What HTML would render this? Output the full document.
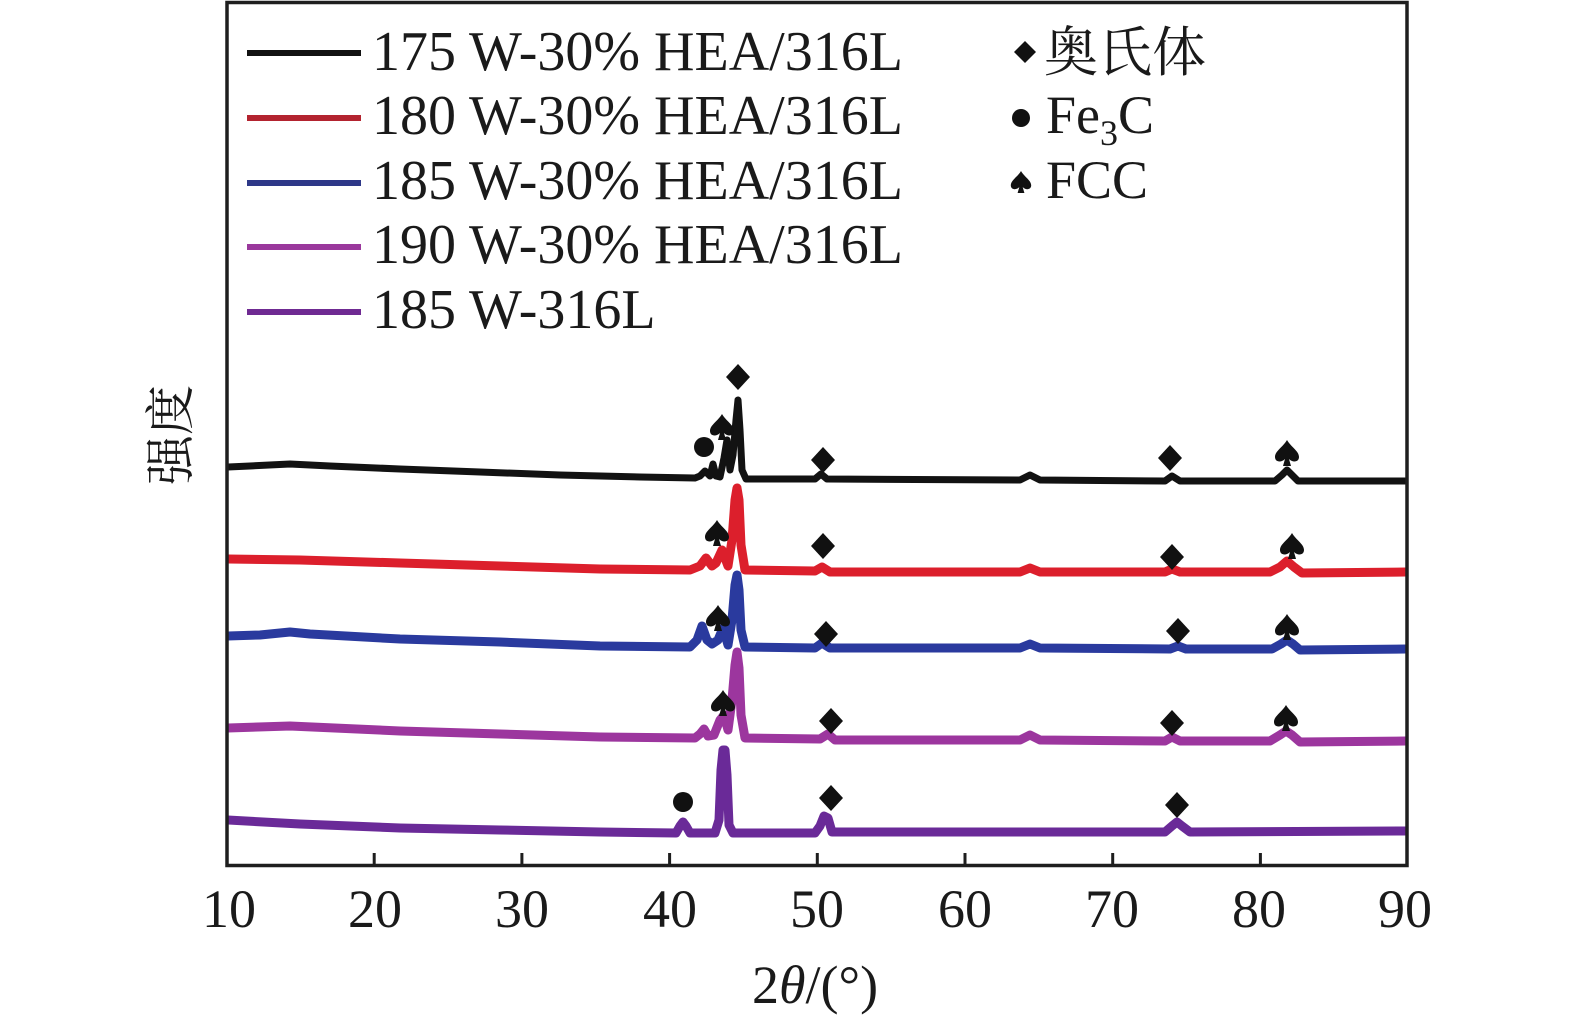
<!DOCTYPE html>
<html>
<head>
<meta charset="utf-8">
<style>
  html,body{margin:0;padding:0;background:#fff;}
  body{width:1575px;height:1023px;overflow:hidden;}
  svg{display:block;}
  .serif{font-family:"Liberation Serif","Noto Serif CJK SC",serif;fill:#1a1a1a;}
  .cjk{font-family:"Liberation Serif","Noto Serif CJK SC","Noto Sans CJK SC",serif;fill:#1a1a1a;}
</style>
</head>
<body>
<svg width="1575" height="1023" viewBox="0 0 1575 1023" xmlns="http://www.w3.org/2000/svg">
  <defs>
    <clipPath id="plot"><rect x="228" y="4" width="1178" height="860"/></clipPath>
    <path id="spade" d="M0,-13 C4,-6 12,-2 12,4 C12,9 6,10 2,6 L4,13 L-4,13 L-2,6 C-6,10 -12,9 -12,4 C-12,-2 -4,-6 0,-13 Z"/>
    <path id="diam" d="M0,-13 L12,0 L0,13 L-12,0 Z"/>
  </defs>

  <!-- curves -->
  <g clip-path="url(#plot)" fill="none" stroke-linejoin="round" stroke-linecap="round">
    <path stroke="#121212" stroke-width="7" d="M227,467 L250,466 L290,464 L330,466 L400,469 L480,472 L560,475 L640,477 L695,478 L700,476 L705,471 L710,476 L713,464 L716,476 L720,477 L724,458 L727,440 L730,470 L733,455 L736,420 L738,400 L740,430 L742,470 L746,479 L815,479 L821,474 L827,479 L1020,480 L1030,475 L1040,480 L1165,481 L1172,476 L1180,481 L1275,481 L1282,475 L1287,470 L1292,475 L1298,481 L1410,481"/>
    <path stroke="#dc1f2c" stroke-width="9" d="M227,559 L300,560 L400,563 L500,566 L600,569 L690,570 L700,566 L706,558 L712,566 L716,563 L722,550 L728,566 L732,540 L735,500 L737,488 L739,500 L741,545 L745,570 L815,571 L822,567 L830,572 L1020,572 L1030,568 L1040,572 L1165,572 L1172,569 L1180,572 L1270,572 L1280,567 L1287,561 L1294,567 L1302,573 L1410,572"/>
    <path stroke="#2a3a9e" stroke-width="9" d="M227,636 L260,635 L290,632 L310,634 L400,639 L500,642 L600,646 L690,647 L697,640 L702,626 L707,640 L712,644 L718,640 L723,628 L728,645 L732,620 L735,585 L737,575 L739,590 L741,630 L745,647 L815,648 L822,643 L830,648 L1020,648 L1030,644 L1040,648 L1170,649 L1178,646 L1186,649 L1272,649 L1281,644 L1287,640 L1293,644 L1300,650 L1410,649"/>
    <path stroke="#9c369e" stroke-width="9" d="M227,728 L290,726 L400,731 L500,734 L600,737 L695,738 L700,734 L704,729 L708,736 L714,735 L720,720 L724,715 L728,730 L732,700 L735,665 L737,652 L739,668 L741,715 L745,738 L820,739 L828,734 L835,740 L1020,740 L1030,735 L1040,740 L1165,741 L1172,737 L1180,741 L1270,741 L1280,735 L1286,731 L1292,735 L1300,742 L1410,741"/>
    <path stroke="#6a2a98" stroke-width="9" d="M227,820 L300,824 L400,828 L500,830 L600,832 L676,833 L680,826 L683,822 L686,826 L690,833 L715,833 L719,820 L721,770 L723,750 L725,750 L727,775 L729,825 L733,833 L815,833 L820,826 L824,816 L828,818 L832,832 L1165,832 L1172,826 L1177,822 L1182,826 L1190,832 L1410,831"/>
  </g>

  <!-- peak markers -->
  <g fill="#111">
    <use href="#diam" x="738" y="377"/>
    <circle cx="704" cy="447" r="10"/>
    <use href="#spade" x="722" y="427"/>
    <use href="#diam" x="823" y="460"/>
    <use href="#diam" x="1170" y="458"/>
    <use href="#spade" x="1287" y="453"/>
    <use href="#spade" x="717" y="533"/>
    <use href="#diam" x="823" y="546"/>
    <use href="#diam" x="1172" y="557"/>
    <use href="#spade" x="1292" y="546"/>
    <use href="#spade" x="718" y="618"/>
    <use href="#diam" x="826" y="634"/>
    <use href="#diam" x="1178" y="631"/>
    <use href="#spade" x="1287" y="627"/>
    <use href="#spade" x="723" y="703"/>
    <use href="#diam" x="831" y="721"/>
    <use href="#diam" x="1172" y="723"/>
    <use href="#spade" x="1286" y="718"/>
    <circle cx="683" cy="802" r="10"/>
    <use href="#diam" x="831" y="798"/>
    <use href="#diam" x="1177" y="805"/>
  </g>

  <!-- frame -->
  <rect x="227" y="2.5" width="1180" height="863" fill="none" stroke="#1e1e1e" stroke-width="3.5"/>
  <g stroke="#1e1e1e" stroke-width="3">
    <line x1="374.2" y1="866" x2="374.2" y2="853"/>
    <line x1="521.9" y1="866" x2="521.9" y2="853"/>
    <line x1="669.6" y1="866" x2="669.6" y2="853"/>
    <line x1="817.3" y1="866" x2="817.3" y2="853"/>
    <line x1="965.0" y1="866" x2="965.0" y2="853"/>
    <line x1="1112.7" y1="866" x2="1112.7" y2="853"/>
    <line x1="1260.4" y1="866" x2="1260.4" y2="853"/>
  </g>

  <g class="serif" font-size="54" text-anchor="middle">
    <text x="229" y="927">10</text>
    <text x="375" y="927">20</text>
    <text x="522" y="927">30</text>
    <text x="670" y="927">40</text>
    <text x="817" y="927">50</text>
    <text x="965" y="927">60</text>
    <text x="1112" y="927">70</text>
    <text x="1259" y="927">80</text>
    <text x="1405" y="927">90</text>
  </g>

  <text class="serif" font-size="54" x="815" y="1003" text-anchor="middle">2<tspan font-style="italic">θ</tspan>/(°)</text>
  <text class="cjk" font-size="50" text-anchor="middle" transform="translate(188,435) rotate(-90)">强度</text>

  <g stroke-width="6">
    <line x1="247" y1="53" x2="361" y2="53" stroke="#121212"/>
    <line x1="247" y1="118" x2="361" y2="118" stroke="#b3232f"/>
    <line x1="247" y1="183" x2="361" y2="183" stroke="#2e3888"/>
    <line x1="247" y1="247" x2="361" y2="247" stroke="#9a389c"/>
    <line x1="247" y1="312" x2="361" y2="312" stroke="#6f2a92"/>
  </g>
  <g class="serif" font-size="56">
    <text x="372" y="70">175 W-30% HEA/316L</text>
    <text x="372" y="134">180 W-30% HEA/316L</text>
    <text x="372" y="199">185 W-30% HEA/316L</text>
    <text x="372" y="263">190 W-30% HEA/316L</text>
    <text x="372" y="328">185 W-316L</text>
  </g>

  <g fill="#111">
    <path d="M1025,41 L1036,52 L1025,63 L1014,52 Z"/>
    <circle cx="1021" cy="118" r="9"/>
    <path transform="translate(1021,182) scale(0.85)" d="M0,-13 C4,-6 12,-2 12,4 C12,9 6,10 2,6 L4,13 L-4,13 L-2,6 C-6,10 -12,9 -12,4 C-12,-2 -4,-6 0,-13 Z"/>
  </g>
  <text class="cjk" font-size="54" x="1044" y="71">奥氏体</text>
  <text class="serif" font-size="54" x="1046" y="133">Fe<tspan font-size="36" dy="12">3</tspan><tspan dy="-12">C</tspan></text>
  <text class="serif" font-size="54" x="1046" y="198">FCC</text>
</svg>
</body>
</html>
